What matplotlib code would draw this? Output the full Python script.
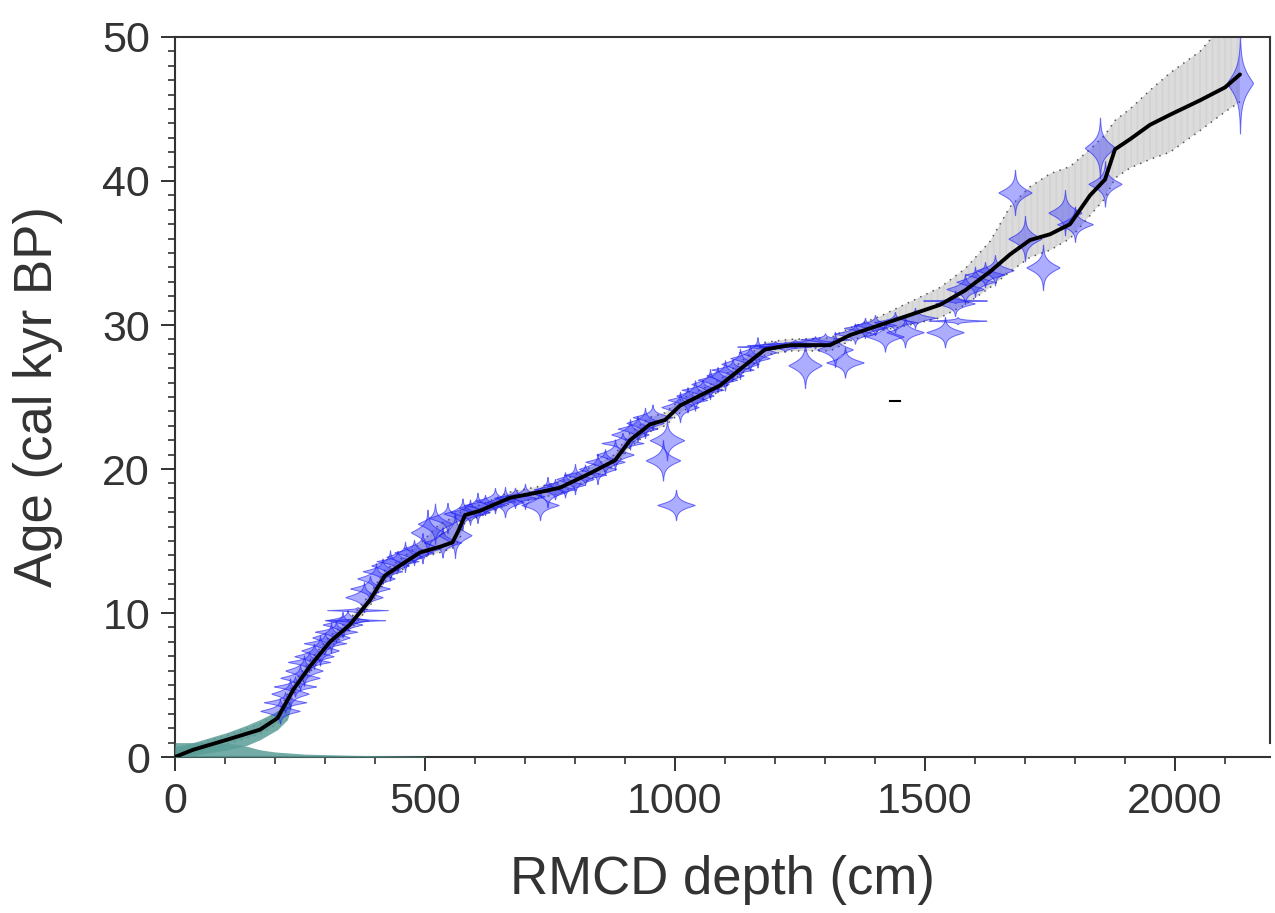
import numpy as np
import matplotlib
matplotlib.use("Agg")
import matplotlib.pyplot as plt
from matplotlib.ticker import MultipleLocator

plt.rcParams['font.family'] = ['Liberation Sans', 'DejaVu Sans']
plt.rcParams['hatch.linewidth'] = 0.6

# ---- age-depth model (median, and 95% range) ----
model_depth = [0, 36, 104, 170, 205, 237, 270, 310, 350, 390, 420, 450, 490, 530, 555, 568, 580,
               610, 670, 730, 770, 830, 880, 910, 950, 980, 1010, 1050, 1090, 1140, 1180,
               1230, 1310, 1350, 1410, 1470, 1530, 1580, 1630, 1670, 1710, 1750, 1790, 1830,
               1860, 1880, 1910, 1950, 1990, 2050, 2100, 2130]
model_age = [0, 0.5, 1.2, 1.9, 2.7, 4.7, 6.3, 8.0, 9.2, 10.9, 12.6, 13.3, 14.2, 14.6, 14.9, 15.8, 16.8,
             17.1, 18.0, 18.4, 18.7, 19.7, 20.6, 22.0, 23.1, 23.4, 24.4, 25.1, 25.8, 27.2, 28.3,
             28.6, 28.6, 29.3, 30.0, 30.7, 31.4, 32.4, 33.7, 34.9, 35.9, 36.3, 37.0, 39.0,
             40.1, 42.2, 42.9, 43.9, 44.6, 45.6, 46.5, 47.4]
model_lo = [-0.2, 0.2, 0.9, 1.6, 2.3, 4.3, 5.9, 7.6, 8.8, 10.5, 12.2, 12.9, 13.8, 14.2, 14.5, 15.0, 16.3,
            16.7, 17.6, 18.0, 18.3, 19.3, 20.2, 21.5, 22.6, 23.0, 23.9, 24.7, 25.4, 26.8, 27.9,
            28.2, 28.2, 28.9, 29.6, 30.0, 30.5, 31.4, 32.6, 33.7, 34.7, 35.2, 36.0, 37.6,
            38.8, 40.2, 40.9, 41.5, 42.0, 43.5, 44.8, 45.5]
model_hi = [0.3, 0.8, 1.5, 2.3, 3.1, 5.1, 6.7, 8.4, 9.6, 11.3, 13.0, 13.7, 14.8, 16.2, 16.6, 16.9, 17.3,
            17.5, 18.4, 18.8, 19.1, 20.1, 21.0, 22.5, 23.6, 23.9, 24.8, 25.5, 26.2, 27.7, 28.8,
            29.0, 29.1, 29.8, 30.6, 31.6, 32.6, 33.9, 35.8, 38.2, 39.6, 40.5, 41.0, 42.2,
            43.2, 44.2, 45.0, 46.3, 47.5, 49.0, 51.0, 52.0]

# ---- surface (teal) distribution ----
teal_depth = [0, 36, 104, 143, 170, 205, 225, 232]
teal_lo = [0, 0.1, 0.5, 0.8, 1.2, 1.9, 2.6, 3.5]
teal_hi = [0.7, 1.0, 1.7, 2.2, 2.6, 3.2, 3.8, 3.9]
tail_depth = [0, 60, 120, 143, 170, 200, 260, 350, 500]
tail_hi = [1.0, 1.0, 0.9, 0.75, 0.5, 0.35, 0.2, 0.12, 0.05]

# ---- dated levels: depth (cm), age (cal kyr BP), spread (kyr) ----
date_depth = [210, 220, 230, 240, 250, 258, 268, 278, 290, 300, 312, 322, 335, 345, 360, 365,
              378, 390, 402, 415, 430, 445, 460, 478, 495, 505, 520, 535, 545, 560, 575, 590,
              605, 620, 640, 660, 680, 700, 730, 745, 760, 780, 800, 820, 845, 860, 880, 895,
              910, 925, 940, 955, 984, 976, 1002, 1010, 1025, 1040, 1055, 1070, 1085, 1100,
              1115, 1130, 1150, 1165, 1180, 1200, 1220, 1240, 1260, 1280, 1300, 1320, 1340,
              1360, 1380, 1400, 1420, 1440, 1460, 1480, 1560, 1565, 1540, 1560, 1580, 1600,
              1620, 1640, 1680, 1700, 1736, 1780, 1800, 1850, 1860, 2130]
date_age = [3.2, 3.8, 4.4, 4.9, 5.5, 6.0, 6.6, 7.0, 7.4, 7.9, 8.3, 8.7, 9.2, 9.5, 9.5, 10.2,
            11.1, 11.7, 12.4, 12.9, 13.3, 13.6, 13.9, 14.2, 14.5, 15.6, 16.2, 14.9, 16.6, 15.4,
            16.9, 17.0, 17.3, 17.5, 17.8, 17.7, 18.0, 18.1, 17.5, 18.4, 18.6, 18.9, 19.3, 19.6,
            20.0, 20.5, 21.0, 21.8, 22.4, 22.8, 23.2, 23.6, 22.0, 20.6, 17.5, 24.3, 24.8, 25.1,
            25.5, 25.9, 26.2, 26.5, 26.9, 27.3, 27.7, 28.1, 28.5, 28.6, 28.5, 28.7, 27.2, 28.8,
            29.0, 28.3, 27.4, 29.4, 29.8, 30.0, 29.2, 30.2, 29.5, 30.5, 31.7, 30.3, 29.5, 31.5,
            32.5, 33.0, 33.5, 33.8, 39.2, 36.0, 34.0, 37.8, 37.0, 42.3, 39.8, 46.8]
date_sd = [0.25, 0.2, 0.3, 0.2, 0.25, 0.3, 0.2, 0.25, 0.3, 0.2, 0.3, 0.2, 0.25, 0.2, 0.06, 0.06,
           0.3, 0.25, 0.3, 0.25, 0.3, 0.2, 0.3, 0.25, 0.3, 0.45, 0.4, 0.3, 0.3, 0.45, 0.3, 0.25,
           0.3, 0.2, 0.25, 0.3, 0.2, 0.25, 0.3, 0.3, 0.2, 0.25, 0.3, 0.2, 0.3, 0.25, 0.3, 0.2,
           0.3, 0.25, 0.3, 0.25, 0.4, 0.4, 0.3, 0.3, 0.25, 0.3, 0.2, 0.3, 0.25, 0.3, 0.2,
           0.3, 0.25, 0.3, 0.08, 0.08, 0.1, 0.08, 0.45, 0.12, 0.12, 0.35, 0.3, 0.2, 0.2, 0.2, 0.3,
           0.2, 0.3, 0.2, 0.05, 0.07, 0.3, 0.25, 0.3, 0.3, 0.25, 0.3, 0.45, 0.45, 0.45, 0.45, 0.35,
           0.6, 0.45, 1.0]

# ---- small marker segment ----
dash_depth = [1430, 1450]
dash_age = [24.7, 24.7]

fig = plt.figure(figsize=(12.75, 9.13), dpi=100)
ax = fig.add_axes([175 / 1275, 1 - 757 / 913, (1270 - 175) / 1275, (757 - 37) / 913])

# uncertainty envelope
ax.fill_between(model_depth, model_lo, model_hi, facecolor='#f7f7f7', edgecolor='#cdcdcd',
                hatch='|' * 14, linewidth=0, zorder=1)
ax.plot(model_depth, model_lo, color='#555555', lw=1.1, ls=(0, (1, 3.5)), zorder=2)
ax.plot(model_depth, model_hi, color='#555555', lw=1.1, ls=(0, (1, 3.5)), zorder=2)

# teal surface distribution
ax.fill_between(teal_depth, teal_lo, teal_hi, color='#5a9d97', alpha=0.85, lw=0, zorder=3)
ax.fill_between(tail_depth, 0, tail_hi, color='#5a9d97', alpha=0.85, lw=0, zorder=3)

# dates
z = np.linspace(-3.5, 3.5, 241)
for d, a, s in zip(date_depth, date_age, date_sd):
    hw = 26 * s ** -0.3 * np.exp(-np.abs(z) ** 1.25)
    ax.fill_betweenx(a + z * s, d - hw, d + hw, facecolor=(0.2, 0.2, 1.0, 0.4),
                     edgecolor=(0.1, 0.1, 0.95, 0.6), lw=0.7, zorder=4)

# median model
ax.plot(model_depth, model_age, color='black', lw=2.8, zorder=5,
        solid_capstyle='round', solid_joinstyle='round')
ax.plot(dash_depth, dash_age, color='black', lw=1.5, zorder=5)

ax.set_xlim(0, 2190)
ax.set_ylim(0, 50)
ax.xaxis.set_major_locator(MultipleLocator(500))
ax.xaxis.set_minor_locator(MultipleLocator(100))
ax.yaxis.set_major_locator(MultipleLocator(10))
ax.yaxis.set_minor_locator(MultipleLocator(1))

for sp in ax.spines.values():
    sp.set_color('#333333')
    sp.set_linewidth(1.5)
ax.spines['right'].set_bounds(1, 50)

ax.tick_params(which='major', direction='out', length=10, width=1.4, colors='#333333',
               labelsize=31, pad=8)
ax.tick_params(which='minor', direction='out', length=5, width=1.2, colors='#333333')
ax.set_xlabel('RMCD depth (cm)', fontsize=38, color='#333333', labelpad=24)
ax.set_ylabel('Age (cal kyr BP)', fontsize=38, color='#333333', labelpad=28)

fig.savefig('out.png', dpi=100, facecolor='white')
